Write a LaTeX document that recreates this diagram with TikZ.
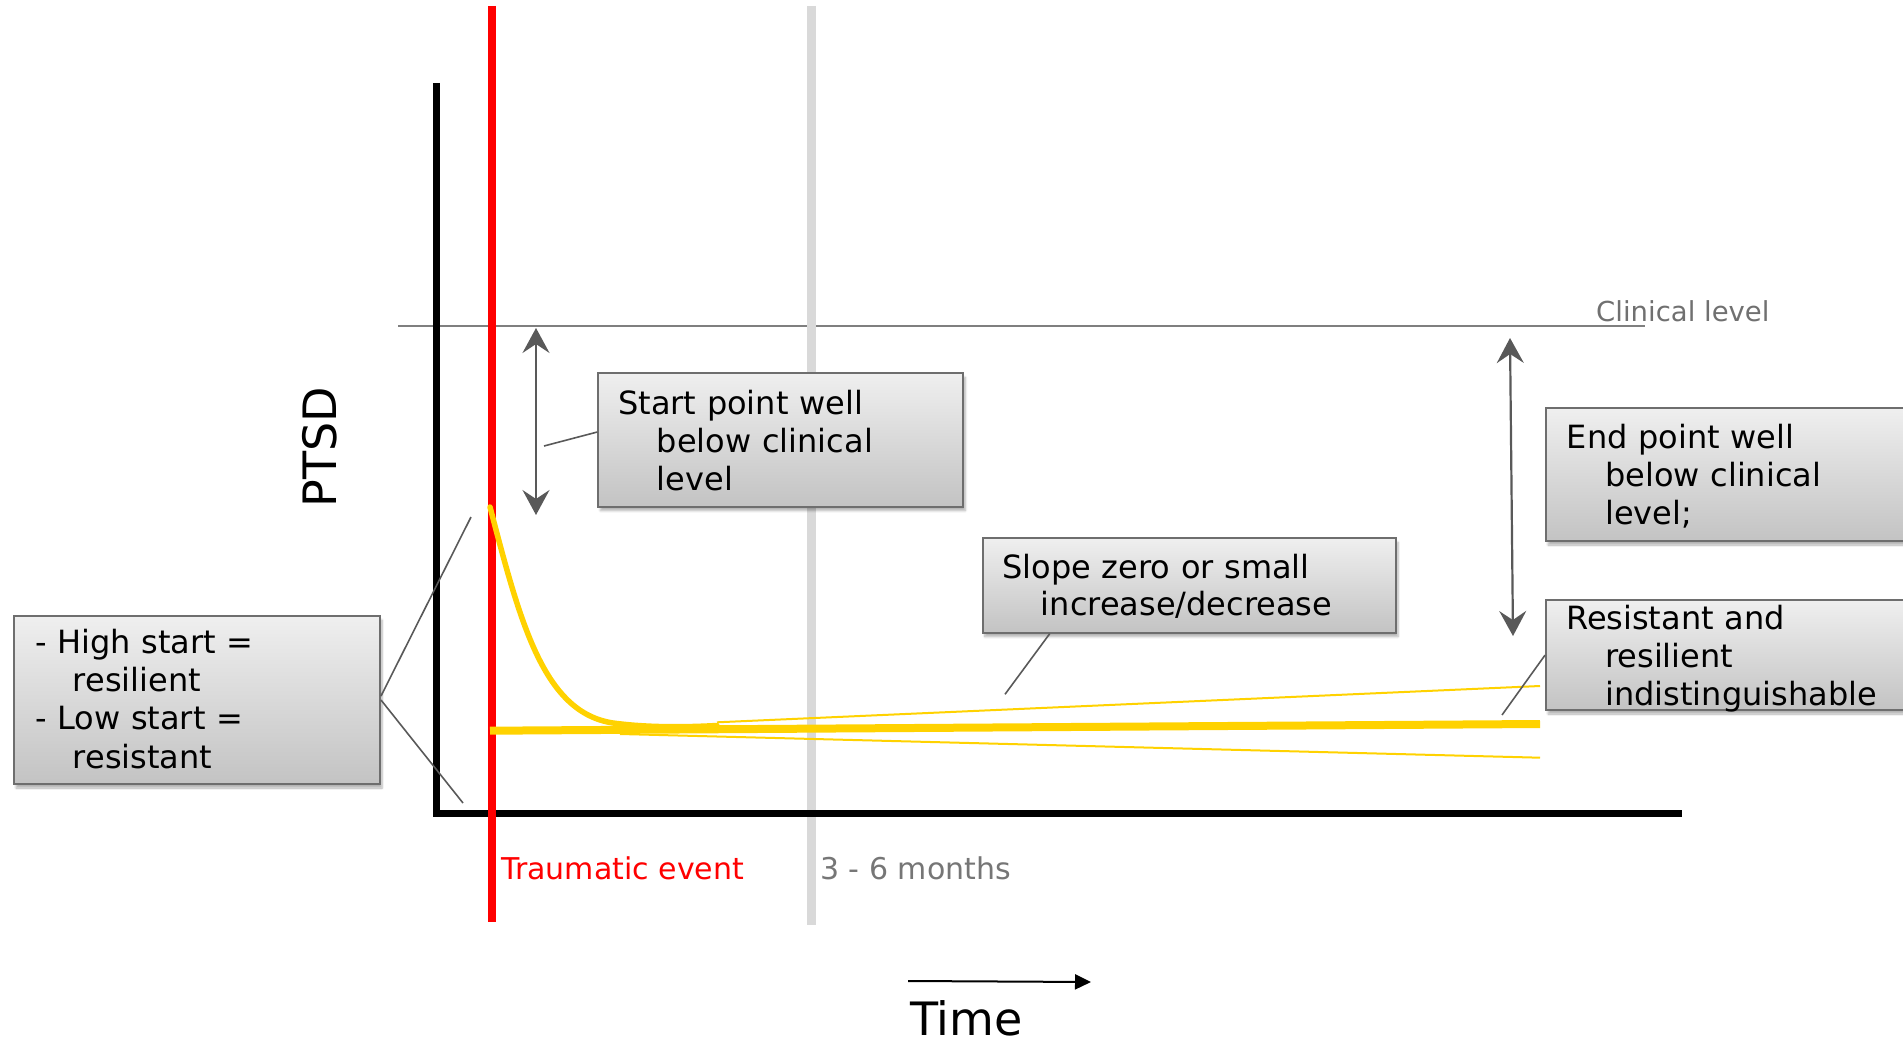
\documentclass[tikz,border=0pt]{standalone}
\usepackage{fontspec}
\setmainfont{DejaVu Sans}
\usetikzlibrary{arrows.meta,shadows.blur,calc}
\definecolor{ygold}{HTML}{FFD200}
\definecolor{linegray}{HTML}{D9D9D9}
\definecolor{darkg}{HTML}{595959}
\definecolor{clin}{HTML}{7F7F7F}
\definecolor{clintext}{HTML}{707070}
\definecolor{monthtext}{HTML}{767676}
\definecolor{boxtop}{HTML}{EFEFEF}
\definecolor{boxbot}{HTML}{C3C3C3}
\definecolor{boxedge}{HTML}{6E6E6E}
\begin{document}
\begin{tikzpicture}[x=1pt,y=-1pt,
  infobox/.style={draw=boxedge, line width=2pt, top color=boxtop, bottom color=boxbot,
    rectangle, inner sep=0pt, anchor=north west,
    blur shadow={shadow blur steps=6, shadow xshift=2pt, shadow yshift=-4pt, shadow opacity=30}},
  boxtext/.style={anchor=base west, inner sep=0pt, text width=500pt, align=left,
    font=\fontsize{32}{38.3}\selectfont},
  conn/.style={draw=darkg, line width=1.6pt},
  measure/.style={draw=darkg, line width=2.2pt,
    {Stealth[length=25pt,width=27pt,inset=9pt]}-{Stealth[length=25pt,width=27pt,inset=9pt]}},
]
\useasboundingbox (0,0) rectangle (1903,1046);
\clip (0,0) rectangle (1903,1046);

% clinical level line
\draw[clin, line width=2pt] (398,326) -- (1645,326);
\node[anchor=base west, inner sep=0pt, text=clintext, font=\fontsize{27.5}{33}\selectfont] (clinlabel) at (1596,321.7) {Clinical level};

% 3-6 months line
\draw[linegray, line width=9pt] (811,6) -- (811,925);

% axes
\draw[black, line width=7pt, miter limit=10] (436,83) -- (436,813) -- (1682,813);

% traumatic event line
\draw[red, line width=8pt] (491.5,6) -- (491.5,922);

% yellow trajectories
\draw[ygold, line width=2pt] (717,722.3) -- (1540,686);
\draw[ygold, line width=2pt] (620,734) -- (1540,757.7);
\draw[ygold, line width=8pt] (490,730.7) -- (1540,724);
\draw[ygold, line width=5.5pt, line cap=round] (490,507) .. controls (520,621) and (543,712.5) .. (613,723)
      .. controls (650,728) and (690,727) .. (717,725.5);

% axis labels
\node[rotate=90, anchor=base, inner sep=0pt, font=\fontsize{46}{55}\selectfont] (ptsd) at (336.7,447.3) {PTSD};
\node[anchor=base west, inner sep=0pt, text=red, font=\fontsize{30}{36}\selectfont] (trauma) at (501,879) {Traumatic event};
\node[anchor=base west, inner sep=0pt, text=monthtext, font=\fontsize{30}{36}\selectfont] (months) at (820,879) {3 - 6 months};
\node[anchor=base west, inner sep=0pt, text depth=0pt, font=\fontsize{46}{55}\selectfont] (time) at (910,1035) {Time};
\coordinate (ta) at (908,981);
\coordinate (tb) at (1091,982);
\draw[black, line width=2pt, -{Triangle[length=16pt,width=15pt]}] (ta) -- (tb);

% boxes
\node[infobox, minimum width=366pt, minimum height=168pt] (lbox) at (13,615) {};
\node[infobox, minimum width=365pt, minimum height=133.4pt] (startbox) at (597.3,372.3) {};
\node[infobox, minimum width=413.3pt, minimum height=94.4pt] (slopebox) at (981.7,537.3) {};
\node[infobox, minimum width=380pt, minimum height=133.3pt] (endbox) at (1545,406.7) {};
\node[infobox, minimum width=380pt, minimum height=109.7pt] (resbox) at (1545,599.3) {};

% box texts
\node[boxtext] (ltext) at (35,653.3) {- High start =\\\hspace*{37.7pt}resilient\\- Low start =\\\hspace*{37.7pt}resistant};
\node[boxtext] (starttext) at (618,414) {Start point well\\\hspace*{38.7pt}below clinical\\\hspace*{38.7pt}level};
\node[boxtext, font=\fontsize{32}{37.4}\selectfont] (slopetext) at (1002.3,578.3) {Slope zero or small\\\hspace*{38.4pt}increase/decrease};
\node[boxtext] (endtext) at (1566.7,448.3) {End point well\\\hspace*{38.3pt}below clinical\\\hspace*{38.3pt}level;};
\node[boxtext] (restext) at (1566,629) {Resistant and\\\hspace*{39pt}resilient\\\hspace*{39pt}indistinguishable};

% connectors
\coordinate (lhigh) at (471,517);
\coordinate (llow) at (463,803);
\draw[conn] ([yshift=4pt]lbox.east) -- (lhigh);
\draw[conn] (lbox.east) -- (llow);
\coordinate (sfree) at (544,446);
\draw[conn] ([yshift=8pt]startbox.west) -- (sfree);
\coordinate (slfree) at (1005,694.3);
\draw[conn] ([xshift=68pt]slopebox.south west) -- (slfree);
\coordinate (rfree) at (1502,715);
\draw[conn] (resbox.west) -- (rfree);

% measurement arrows
\coordinate (sa1) at (536,328);
\coordinate (sa2) at (536,515);
\draw[measure] (sa1) -- (sa2);
\coordinate (ea1) at (1510,338);
\coordinate (ea2) at (1513,636);
\draw[measure] (ea1) -- (ea2);
\end{tikzpicture}
\end{document}
